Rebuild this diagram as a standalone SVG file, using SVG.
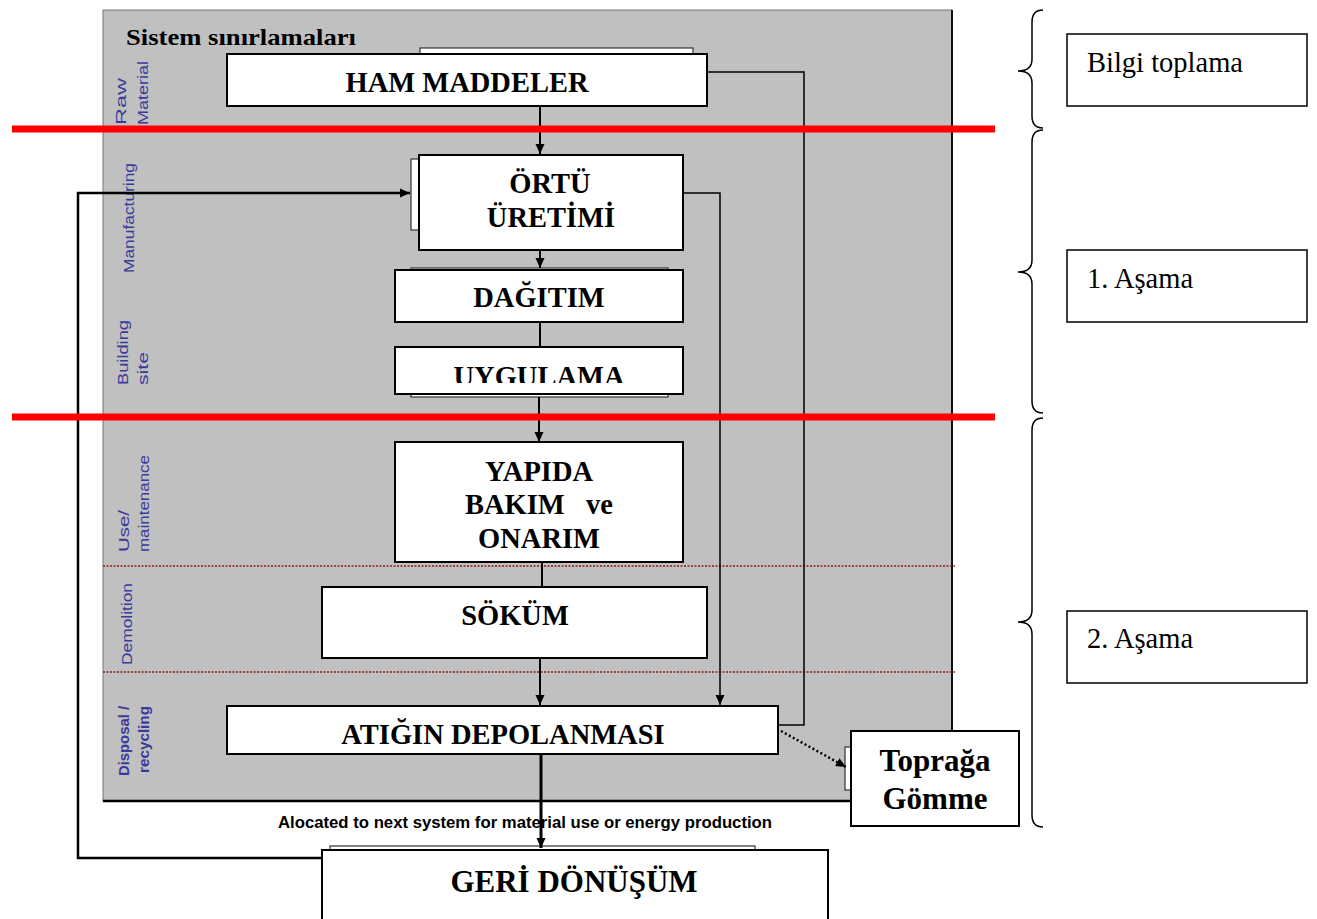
<svg xmlns="http://www.w3.org/2000/svg" width="1317" height="919" viewBox="0 0 1317 919">
<style>
.box{fill:#fff;stroke:#000;stroke-width:2}
.shd{fill:#fff;stroke:#333;stroke-width:1.2}
.lbl{font-family:"Liberation Serif","Times New Roman",serif;font-weight:bold;font-size:28.5px;fill:#000;text-anchor:middle}
.side{font-family:"Liberation Serif","Times New Roman",serif;font-size:28.5px;fill:#000}
.vt{font-family:"Liberation Sans",Arial,sans-serif;font-size:15px;fill:#3a3a9c}
.con{fill:none;stroke:#000;stroke-width:2}
.red{stroke:#ff0000;stroke-width:7}
.dot{stroke:#8b1a1a;stroke-width:1.3;stroke-dasharray:2,1.5}
.brace{fill:none;stroke:#000;stroke-width:1.5}
</style>
<defs>
<marker id="ah" markerWidth="11" markerHeight="10" refX="10" refY="5" orient="auto" markerUnits="userSpaceOnUse"><path d="M0,0.5 L10,5 L0,9.5 z" fill="#000"/></marker>
<clipPath id="uyg"><rect x="396" y="348" width="286" height="35"/></clipPath>
</defs>
<rect width="1317" height="919" fill="#fff"/>
<g id="panel">
<rect x="103" y="10" width="849" height="791" fill="#c0c0c0" stroke="#777" stroke-width="1"/>
<line x1="952" y1="10" x2="952" y2="731" stroke="#111" stroke-width="2"/>
<line x1="103" y1="801" x2="851" y2="801" stroke="#000" stroke-width="2.5"/>
<text x="126" y="45" style="font-family:'Liberation Serif','Times New Roman',serif;font-weight:bold;font-size:24px" fill="#000" textLength="230" lengthAdjust="spacingAndGlyphs">Sistem sınırlamaları</text>
<line class="dot" x1="103" y1="566" x2="955" y2="566"/>
<line class="dot" x1="103" y1="672" x2="955" y2="672"/>
</g>
<g id="stage-labels">
<text class="vt" transform="translate(126,125) rotate(-90)" textLength="47" lengthAdjust="spacingAndGlyphs">Raw</text>
<text class="vt" transform="translate(148,125) rotate(-90)" textLength="64" lengthAdjust="spacingAndGlyphs">Material</text>
<text class="vt" transform="translate(134,273) rotate(-90)" textLength="110" lengthAdjust="spacingAndGlyphs">Manufacturing</text>
<text class="vt" transform="translate(128,385) rotate(-90)" textLength="65" lengthAdjust="spacingAndGlyphs">Building</text>
<text class="vt" transform="translate(148,385) rotate(-90)" textLength="33" lengthAdjust="spacingAndGlyphs">site</text>
<text class="vt" transform="translate(129,552) rotate(-90)" textLength="42" lengthAdjust="spacingAndGlyphs">Use/</text>
<text class="vt" transform="translate(149,552) rotate(-90)" textLength="97" lengthAdjust="spacingAndGlyphs">maintenance</text>
<text class="vt" transform="translate(132,665) rotate(-90)" textLength="82" lengthAdjust="spacingAndGlyphs">Demolition</text>
<text class="vt" transform="translate(129,776) rotate(-90)" style="font-weight:bold" textLength="70" lengthAdjust="spacingAndGlyphs">Disposal /</text>
<text class="vt" transform="translate(149,773) rotate(-90)" style="font-weight:bold" textLength="67" lengthAdjust="spacingAndGlyphs">recycling</text>
</g>
<g id="ham-maddeler">
<rect class="shd" x="420" y="48" width="273" height="10"/>
<rect class="box" x="227" y="54" width="480" height="52"/>
<text class="lbl" x="467" y="92">HAM MADDELER</text>
</g>
<g id="ortu-uretimi">
<rect class="shd" x="411" y="159" width="10" height="71"/>
<rect class="box" x="419" y="155" width="264" height="95"/>
<text class="lbl" x="550" y="193">ÖRTÜ</text>
<text class="lbl" x="551" y="227">ÜRETİMİ</text>
</g>
<g id="dagitim">
<rect class="shd" x="411" y="268" width="257" height="10"/>
<rect class="box" x="395" y="270" width="288" height="52"/>
<text class="lbl" x="539" y="307">DAĞITIM</text>
</g>
<g id="uygulama">
<rect class="shd" x="411" y="387" width="257" height="10"/>
<rect class="box" x="395" y="347" width="288" height="47"/>
<text class="lbl" x="539" y="386" clip-path="url(#uyg)">UYGULAMA</text>
</g>
<g id="yapida">
<rect class="box" x="395" y="442" width="288" height="120"/>
<text class="lbl" x="539" y="481">YAPIDA</text>
<text class="lbl" x="539" y="514" xml:space="preserve">BAKIM   ve</text>
<text class="lbl" x="539" y="548">ONARIM</text>
</g>
<g id="sokum">
<rect class="box" x="322" y="587" width="385" height="71"/>
<text class="lbl" x="515" y="625">SÖKÜM</text>
</g>
<g id="atigin">
<rect class="box" x="227" y="706" width="551" height="48"/>
<text class="lbl" x="503" y="744">ATIĞIN DEPOLANMASI</text>
</g>
<g id="topraga">
<rect class="shd" x="845" y="747" width="8" height="43"/>
<rect class="box" x="851" y="731" width="168" height="95"/>
<text class="lbl" style="font-size:31px" x="935" y="771">Toprağa</text>
<text class="lbl" style="font-size:31px" x="935" y="809">Gömme</text>
</g>
<g id="geri-donusum">
<rect class="shd" x="330" y="846" width="425" height="10"/>
<rect class="box" x="322" y="850" width="506" height="75"/>
<text class="lbl" style="font-size:31px" x="574" y="892">GERİ DÖNÜŞÜM</text>
</g>
<text x="278" y="828" style="font-family:'Liberation Sans',Arial,sans-serif;font-weight:bold;font-size:16px" fill="#000" textLength="494" lengthAdjust="spacingAndGlyphs">Alocated to next system for material use or energy production</text>
<g id="connectors">
<path class="con" d="M540,106 L540,154" marker-end="url(#ah)"/>
<path class="con" d="M540,250 L540,268" marker-end="url(#ah)"/>
<path class="con" d="M540,322 L540,347"/>
<path class="con" d="M539,397 L539,442" marker-end="url(#ah)"/>
<path class="con" d="M542,562 L542,587"/>
<path class="con" d="M540,658 L540,705" marker-end="url(#ah)"/>
<path class="con" style="stroke-width:3" d="M541,754 L541,848" marker-end="url(#ah)"/>
<path class="con" style="stroke-width:2.5" d="M322,858 L78,858 L78,193 L410,193" marker-end="url(#ah)"/>
<path class="con" style="stroke-width:1.5" d="M683,193 L720,193 L720,705" marker-end="url(#ah)"/>
<path class="con" style="stroke-width:1.5" d="M707,72 L804,72 L804,725 L779,725"/>
<path class="con" style="stroke-dasharray:2,2.5;stroke-width:2.5" d="M781,731 L846,767" marker-end="url(#ah)"/>
</g>
<g id="red-lines">
<line class="red" x1="12" y1="129" x2="995" y2="129"/>
<line class="red" x1="12" y1="417" x2="995" y2="417"/>
</g>
<g id="bilgi-toplama">
<path class="brace" d="M1043,10 Q1032,10 1032,22 L1032,59 Q1032,71 1018,71 Q1032,71 1032,83 L1032,116 Q1032,128 1043,128"/>
<rect x="1067" y="34" width="240" height="72" fill="#fff" stroke="#000" stroke-width="1.5"/>
<text class="side" x="1087" y="72">Bilgi toplama</text>
</g>
<g id="asama-1">
<path class="brace" d="M1043,130 Q1032,130 1032,142 L1032,260 Q1032,272 1018,272 Q1032,272 1032,284 L1032,401 Q1032,413 1043,413"/>
<rect x="1067" y="250" width="240" height="72" fill="#fff" stroke="#000" stroke-width="1.5"/>
<text class="side" x="1087" y="288">1. Aşama</text>
</g>
<g id="asama-2">
<path class="brace" d="M1043,418 Q1032,418 1032,430 L1032,610 Q1032,622 1018,622 Q1032,622 1032,634 L1032,815 Q1032,827 1043,827"/>
<rect x="1067" y="611" width="240" height="72" fill="#fff" stroke="#000" stroke-width="1.5"/>
<text class="side" x="1087" y="648">2. Aşama</text>
</g>
</svg>
